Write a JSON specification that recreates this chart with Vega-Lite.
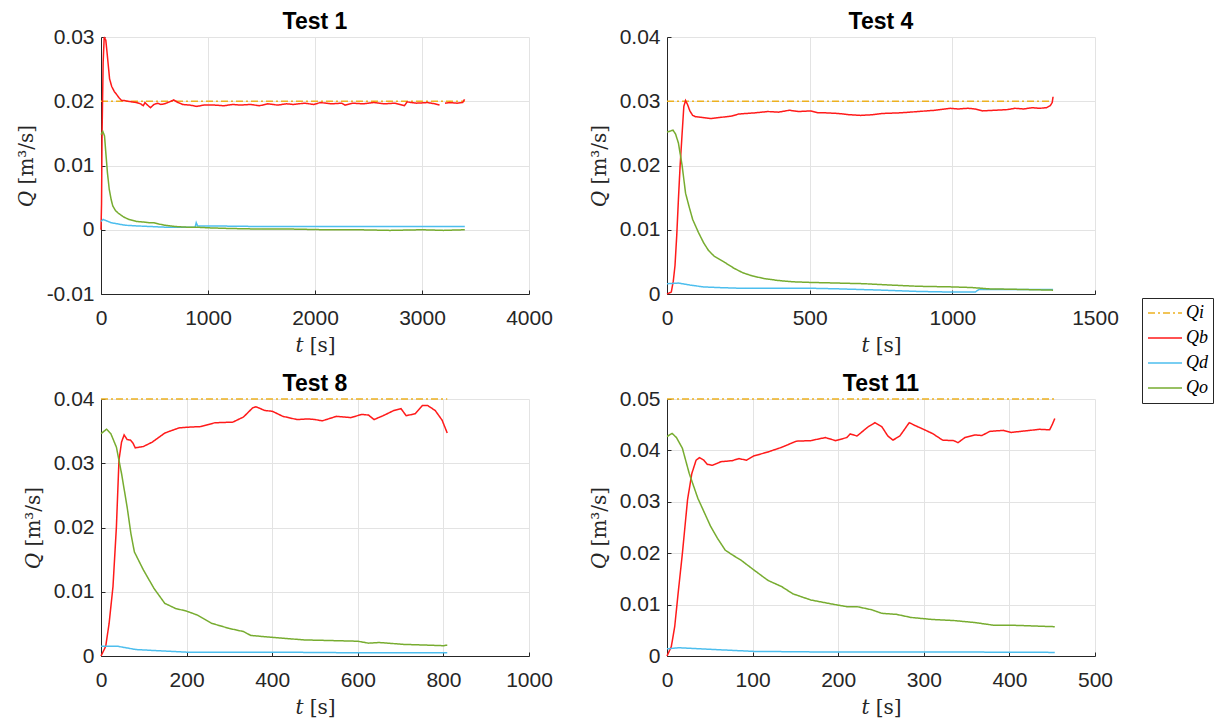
{
  "$schema": "https://vega.github.io/schema/vega-lite/v6.json",
  "padding": {"left": 16, "top": 11, "right": 5, "bottom": 5},
  "background": "white",
  "datasets": {
    "t1": [
      {"s":"Qi","t":0,"q":0.02},{"s":"Qi","t":3400,"q":0.02},
      {"s":"Qb","t":0,"q":0},{"s":"Qb","t":5,"q":0.004},{"s":"Qb","t":10,"q":0.015},{"s":"Qb","t":20,"q":0.026},{"s":"Qb","t":30,"q":0.03},{"s":"Qb","t":45,"q":0.0295},{"s":"Qb","t":60,"q":0.027},{"s":"Qb","t":80,"q":0.0235},{"s":"Qb","t":100,"q":0.0223},{"s":"Qb","t":125,"q":0.0215},{"s":"Qb","t":144,"q":0.0211},{"s":"Qb","t":170,"q":0.0205},{"s":"Qb","t":194,"q":0.0201},{"s":"Qb","t":220,"q":0.0201},{"s":"Qb","t":250,"q":0.02},{"s":"Qb","t":290,"q":0.0199},{"s":"Qb","t":330,"q":0.0198},{"s":"Qb","t":370,"q":0.0196},{"s":"Qb","t":395,"q":0.0193},{"s":"Qb","t":411,"q":0.0198},{"s":"Qb","t":435,"q":0.0194},{"s":"Qb","t":462,"q":0.019},{"s":"Qb","t":495,"q":0.0195},{"s":"Qb","t":528,"q":0.0197},{"s":"Qb","t":560,"q":0.0195},{"s":"Qb","t":595,"q":0.0196},{"s":"Qb","t":640,"q":0.0199},{"s":"Qb","t":679,"q":0.0202},{"s":"Qb","t":720,"q":0.0198},{"s":"Qb","t":763,"q":0.0195},{"s":"Qb","t":830,"q":0.0194},{"s":"Qb","t":896,"q":0.0192},{"s":"Qb","t":960,"q":0.0194},{"s":"Qb","t":1064,"q":0.0194},{"s":"Qb","t":1150,"q":0.0193},{"s":"Qb","t":1230,"q":0.0195},{"s":"Qb","t":1300,"q":0.0194},{"s":"Qb","t":1398,"q":0.0195},{"s":"Qb","t":1480,"q":0.0193},{"s":"Qb","t":1560,"q":0.0196},{"s":"Qb","t":1650,"q":0.0194},{"s":"Qb","t":1732,"q":0.0196},{"s":"Qb","t":1800,"q":0.0195},{"s":"Qb","t":1900,"q":0.0197},{"s":"Qb","t":1990,"q":0.0195},{"s":"Qb","t":2050,"q":0.0198},{"s":"Qb","t":2150,"q":0.0196},{"s":"Qb","t":2250,"q":0.0197},{"s":"Qb","t":2280,"q":0.0194},{"s":"Qb","t":2350,"q":0.0197},{"s":"Qb","t":2450,"q":0.0196},{"s":"Qb","t":2550,"q":0.0198},{"s":"Qb","t":2650,"q":0.0196},{"s":"Qb","t":2750,"q":0.0197},{"s":"Qb","t":2836,"q":0.0193},{"s":"Qb","t":2860,"q":0.0199},{"s":"Qb","t":2950,"q":0.0197},{"s":"Qb","t":3050,"q":0.0198},{"s":"Qb","t":3120,"q":0.0196},{"s":"Qb","t":3164,"q":0.0194},{"s":"Qb","t":3190,"q":null},{"s":"Qb","t":3215,"q":0.0197},{"s":"Qb","t":3260,"q":0.0198},{"s":"Qb","t":3330,"q":0.0197},{"s":"Qb","t":3380,"q":0.0198},{"s":"Qb","t":3398,"q":0.0203},
      {"s":"Qd","t":0,"q":0.0013},{"s":"Qd","t":20,"q":0.0016},{"s":"Qd","t":50,"q":0.0014},{"s":"Qd","t":94,"q":0.0011},{"s":"Qd","t":160,"q":0.0009},{"s":"Qd","t":227,"q":0.0007},{"s":"Qd","t":330,"q":0.0006},{"s":"Qd","t":462,"q":0.0005},{"s":"Qd","t":600,"q":0.0004},{"s":"Qd","t":729,"q":0.0004},{"s":"Qd","t":880,"q":0.0004},{"s":"Qd","t":890,"q":0.0011},{"s":"Qd","t":903,"q":0.0006},{"s":"Qd","t":1000,"q":0.0006},{"s":"Qd","t":1500,"q":0.0005},{"s":"Qd","t":2000,"q":0.0005},{"s":"Qd","t":2500,"q":0.0005},{"s":"Qd","t":3000,"q":0.0005},{"s":"Qd","t":3400,"q":0.0005},
      {"s":"Qo","t":0,"q":0.0148},{"s":"Qo","t":17,"q":0.0153},{"s":"Qo","t":33,"q":0.0146},{"s":"Qo","t":45,"q":0.012},{"s":"Qo","t":60,"q":0.0089},{"s":"Qo","t":77,"q":0.0063},{"s":"Qo","t":95,"q":0.0047},{"s":"Qo","t":110,"q":0.0037},{"s":"Qo","t":135,"q":0.003},{"s":"Qo","t":160,"q":0.0026},{"s":"Qo","t":210,"q":0.002},{"s":"Qo","t":261,"q":0.0016},{"s":"Qo","t":330,"q":0.0013},{"s":"Qo","t":395,"q":0.0012},{"s":"Qo","t":450,"q":0.0011},{"s":"Qo","t":495,"q":0.0011},{"s":"Qo","t":540,"q":0.0009},{"s":"Qo","t":595,"q":0.0007},{"s":"Qo","t":650,"q":0.0006},{"s":"Qo","t":696,"q":0.0005},{"s":"Qo","t":800,"q":0.0004},{"s":"Qo","t":896,"q":0.0004},{"s":"Qo","t":1000,"q":0.0003},{"s":"Qo","t":1200,"q":0.0002},{"s":"Qo","t":1500,"q":0.0001},{"s":"Qo","t":1800,"q":0.0001},{"s":"Qo","t":2100,"q":0},{"s":"Qo","t":2400,"q":0},{"s":"Qo","t":2700,"q":-0.0001},{"s":"Qo","t":3000,"q":0},{"s":"Qo","t":3200,"q":-0.0001},{"s":"Qo","t":3400,"q":0}
    ],
    "t4": [
      {"s":"Qi","t":0,"q":0.03},{"s":"Qi","t":1350,"q":0.03},
      {"s":"Qb","t":0,"q":0},{"s":"Qb","t":15,"q":0.0003},{"s":"Qb","t":22,"q":0.002},{"s":"Qb","t":28,"q":0.0044},{"s":"Qb","t":34,"q":0.009},{"s":"Qb","t":40,"q":0.0147},{"s":"Qb","t":46,"q":0.02},{"s":"Qb","t":53,"q":0.025},{"s":"Qb","t":59,"q":0.0292},{"s":"Qb","t":65,"q":0.0301},{"s":"Qb","t":72,"q":0.0295},{"s":"Qb","t":80,"q":0.0285},{"s":"Qb","t":90,"q":0.0278},{"s":"Qb","t":100,"q":0.0276},{"s":"Qb","t":120,"q":0.0275},{"s":"Qb","t":153,"q":0.0273},{"s":"Qb","t":190,"q":0.0275},{"s":"Qb","t":228,"q":0.0277},{"s":"Qb","t":250,"q":0.028},{"s":"Qb","t":278,"q":0.0281},{"s":"Qb","t":310,"q":0.0282},{"s":"Qb","t":353,"q":0.0284},{"s":"Qb","t":390,"q":0.0283},{"s":"Qb","t":429,"q":0.0286},{"s":"Qb","t":460,"q":0.0284},{"s":"Qb","t":504,"q":0.0285},{"s":"Qb","t":530,"q":0.0282},{"s":"Qb","t":554,"q":0.0282},{"s":"Qb","t":600,"q":0.0281},{"s":"Qb","t":640,"q":0.0279},{"s":"Qb","t":679,"q":0.0278},{"s":"Qb","t":720,"q":0.0279},{"s":"Qb","t":754,"q":0.0281},{"s":"Qb","t":820,"q":0.0282},{"s":"Qb","t":880,"q":0.0284},{"s":"Qb","t":940,"q":0.0286},{"s":"Qb","t":992,"q":0.0289},{"s":"Qb","t":1020,"q":0.0288},{"s":"Qb","t":1055,"q":0.0289},{"s":"Qb","t":1080,"q":0.0288},{"s":"Qb","t":1105,"q":0.0285},{"s":"Qb","t":1150,"q":0.0286},{"s":"Qb","t":1193,"q":0.0287},{"s":"Qb","t":1220,"q":0.0289},{"s":"Qb","t":1250,"q":0.0288},{"s":"Qb","t":1280,"q":0.029},{"s":"Qb","t":1306,"q":0.0289},{"s":"Qb","t":1330,"q":0.029},{"s":"Qb","t":1343,"q":0.0293},{"s":"Qb","t":1350,"q":0.0298},{"s":"Qb","t":1353,"q":0.0307},
      {"s":"Qd","t":0,"q":0.0016},{"s":"Qd","t":40,"q":0.0017},{"s":"Qd","t":80,"q":0.0014},{"s":"Qd","t":128,"q":0.0011},{"s":"Qd","t":180,"q":0.001},{"s":"Qd","t":253,"q":0.0009},{"s":"Qd","t":500,"q":0.0009},{"s":"Qd","t":600,"q":0.0008},{"s":"Qd","t":754,"q":0.0006},{"s":"Qd","t":880,"q":0.0004},{"s":"Qd","t":1000,"q":0.0003},{"s":"Qd","t":1080,"q":0.0003},{"s":"Qd","t":1093,"q":0.0007},{"s":"Qd","t":1200,"q":0.0007},{"s":"Qd","t":1353,"q":0.0007},
      {"s":"Qo","t":0,"q":0.0252},{"s":"Qo","t":21,"q":0.0255},{"s":"Qo","t":30,"q":0.0249},{"s":"Qo","t":40,"q":0.0235},{"s":"Qo","t":53,"q":0.02},{"s":"Qo","t":65,"q":0.0157},{"s":"Qo","t":78,"q":0.0135},{"s":"Qo","t":90,"q":0.0116},{"s":"Qo","t":110,"q":0.0096},{"s":"Qo","t":128,"q":0.008},{"s":"Qo","t":145,"q":0.0068},{"s":"Qo","t":165,"q":0.0059},{"s":"Qo","t":203,"q":0.0049},{"s":"Qo","t":235,"q":0.004},{"s":"Qo","t":266,"q":0.0033},{"s":"Qo","t":300,"q":0.0028},{"s":"Qo","t":341,"q":0.0024},{"s":"Qo","t":390,"q":0.0021},{"s":"Qo","t":441,"q":0.0019},{"s":"Qo","t":504,"q":0.0018},{"s":"Qo","t":600,"q":0.0017},{"s":"Qo","t":692,"q":0.0016},{"s":"Qo","t":780,"q":0.0014},{"s":"Qo","t":880,"q":0.0012},{"s":"Qo","t":1005,"q":0.0011},{"s":"Qo","t":1070,"q":0.001},{"s":"Qo","t":1130,"q":0.0008},{"s":"Qo","t":1250,"q":0.0007},{"s":"Qo","t":1353,"q":0.0006}
    ],
    "t8": [
      {"s":"Qi","t":0,"q":0.04},{"s":"Qi","t":809,"q":0.04},
      {"s":"Qb","t":0,"q":0},{"s":"Qb","t":11,"q":0.0015},{"s":"Qb","t":19,"q":0.0051},{"s":"Qb","t":28,"q":0.0108},{"s":"Qb","t":36,"q":0.0201},{"s":"Qb","t":42,"q":0.0305},{"s":"Qb","t":48,"q":0.0333},{"s":"Qb","t":54,"q":0.0344},{"s":"Qb","t":61,"q":0.0337},{"s":"Qb","t":69,"q":0.0336},{"s":"Qb","t":75,"q":0.0331},{"s":"Qb","t":80,"q":0.0324},{"s":"Qb","t":99,"q":0.0326},{"s":"Qb","t":120,"q":0.0333},{"s":"Qb","t":149,"q":0.0347},{"s":"Qb","t":182,"q":0.0355},{"s":"Qb","t":199,"q":0.0356},{"s":"Qb","t":232,"q":0.0357},{"s":"Qb","t":266,"q":0.0363},{"s":"Qb","t":308,"q":0.0364},{"s":"Qb","t":333,"q":0.0372},{"s":"Qb","t":354,"q":0.0386},{"s":"Qb","t":362,"q":0.0388},{"s":"Qb","t":383,"q":0.0382},{"s":"Qb","t":400,"q":0.0381},{"s":"Qb","t":425,"q":0.0373},{"s":"Qb","t":458,"q":0.0368},{"s":"Qb","t":483,"q":0.0369},{"s":"Qb","t":500,"q":0.0368},{"s":"Qb","t":517,"q":0.0366},{"s":"Qb","t":550,"q":0.0373},{"s":"Qb","t":584,"q":0.0371},{"s":"Qb","t":609,"q":0.0376},{"s":"Qb","t":625,"q":0.0375},{"s":"Qb","t":638,"q":0.0368},{"s":"Qb","t":659,"q":0.0374},{"s":"Qb","t":684,"q":0.0382},{"s":"Qb","t":701,"q":0.0385},{"s":"Qb","t":713,"q":0.0374},{"s":"Qb","t":734,"q":0.0377},{"s":"Qb","t":751,"q":0.039},{"s":"Qb","t":763,"q":0.039},{"s":"Qb","t":781,"q":0.0382},{"s":"Qb","t":797,"q":0.0367},{"s":"Qb","t":809,"q":0.0347},
      {"s":"Qd","t":0,"q":0.0015},{"s":"Qd","t":40,"q":0.0015},{"s":"Qd","t":82,"q":0.001},{"s":"Qd","t":140,"q":0.0008},{"s":"Qd","t":199,"q":0.0006},{"s":"Qd","t":400,"q":0.0006},{"s":"Qd","t":600,"q":0.0005},{"s":"Qd","t":809,"q":0.0005},
      {"s":"Qo","t":0,"q":0.0346},{"s":"Qo","t":13,"q":0.0353},{"s":"Qo","t":23,"q":0.0346},{"s":"Qo","t":36,"q":0.0325},{"s":"Qo","t":48,"q":0.0284},{"s":"Qo","t":61,"q":0.0232},{"s":"Qo","t":70,"q":0.019},{"s":"Qo","t":78,"q":0.0162},{"s":"Qo","t":99,"q":0.0134},{"s":"Qo","t":124,"q":0.0105},{"s":"Qo","t":149,"q":0.0082},{"s":"Qo","t":174,"q":0.0074},{"s":"Qo","t":199,"q":0.007},{"s":"Qo","t":224,"q":0.0064},{"s":"Qo","t":258,"q":0.0051},{"s":"Qo","t":299,"q":0.0043},{"s":"Qo","t":333,"q":0.0038},{"s":"Qo","t":350,"q":0.0032},{"s":"Qo","t":400,"q":0.0029},{"s":"Qo","t":475,"q":0.0025},{"s":"Qo","t":540,"q":0.0024},{"s":"Qo","t":600,"q":0.0023},{"s":"Qo","t":625,"q":0.002},{"s":"Qo","t":650,"q":0.0021},{"s":"Qo","t":709,"q":0.0018},{"s":"Qo","t":760,"q":0.0017},{"s":"Qo","t":801,"q":0.0016},{"s":"Qo","t":809,"q":0.0017}
    ],
    "t11": [
      {"s":"Qi","t":0,"q":0.05},{"s":"Qi","t":453,"q":0.05},
      {"s":"Qb","t":0,"q":0},{"s":"Qb","t":5,"q":0.0018},{"s":"Qb","t":9,"q":0.0057},{"s":"Qb","t":13,"q":0.0122},{"s":"Qb","t":18,"q":0.02},{"s":"Qb","t":24,"q":0.0304},{"s":"Qb","t":29,"q":0.0355},{"s":"Qb","t":34,"q":0.0381},{"s":"Qb","t":38,"q":0.0386},{"s":"Qb","t":43,"q":0.0381},{"s":"Qb","t":47,"q":0.0373},{"s":"Qb","t":53,"q":0.0371},{"s":"Qb","t":63,"q":0.0378},{"s":"Qb","t":76,"q":0.038},{"s":"Qb","t":84,"q":0.0384},{"s":"Qb","t":93,"q":0.0381},{"s":"Qb","t":101,"q":0.0389},{"s":"Qb","t":118,"q":0.0397},{"s":"Qb","t":134,"q":0.0406},{"s":"Qb","t":151,"q":0.0418},{"s":"Qb","t":168,"q":0.0419},{"s":"Qb","t":185,"q":0.0425},{"s":"Qb","t":197,"q":0.0419},{"s":"Qb","t":210,"q":0.0425},{"s":"Qb","t":214,"q":0.0432},{"s":"Qb","t":222,"q":0.0428},{"s":"Qb","t":235,"q":0.0446},{"s":"Qb","t":243,"q":0.0454},{"s":"Qb","t":251,"q":0.0446},{"s":"Qb","t":258,"q":0.0428},{"s":"Qb","t":264,"q":0.042},{"s":"Qb","t":272,"q":0.0428},{"s":"Qb","t":283,"q":0.0454},{"s":"Qb","t":289,"q":0.0449},{"s":"Qb","t":297,"q":0.0443},{"s":"Qb","t":310,"q":0.0433},{"s":"Qb","t":322,"q":0.042},{"s":"Qb","t":335,"q":0.0419},{"s":"Qb","t":340,"q":0.0415},{"s":"Qb","t":348,"q":0.0425},{"s":"Qb","t":360,"q":0.043},{"s":"Qb","t":368,"q":0.0429},{"s":"Qb","t":377,"q":0.0437},{"s":"Qb","t":393,"q":0.0439},{"s":"Qb","t":402,"q":0.0435},{"s":"Qb","t":419,"q":0.0438},{"s":"Qb","t":435,"q":0.0441},{"s":"Qb","t":447,"q":0.044},{"s":"Qb","t":450,"q":0.045},{"s":"Qb","t":453,"q":0.0462},
      {"s":"Qd","t":0,"q":0.0014},{"s":"Qd","t":14,"q":0.0016},{"s":"Qd","t":63,"q":0.0012},{"s":"Qd","t":101,"q":0.0009},{"s":"Qd","t":168,"q":0.0008},{"s":"Qd","t":300,"q":0.0008},{"s":"Qd","t":453,"q":0.0007},
      {"s":"Qo","t":0,"q":0.0427},{"s":"Qo","t":6,"q":0.0433},{"s":"Qo","t":11,"q":0.0425},{"s":"Qo","t":18,"q":0.0404},{"s":"Qo","t":26,"q":0.0355},{"s":"Qo","t":36,"q":0.0307},{"s":"Qo","t":51,"q":0.0252},{"s":"Qo","t":59,"q":0.0229},{"s":"Qo","t":68,"q":0.0206},{"s":"Qo","t":76,"q":0.0197},{"s":"Qo","t":86,"q":0.0187},{"s":"Qo","t":101,"q":0.0168},{"s":"Qo","t":118,"q":0.0147},{"s":"Qo","t":134,"q":0.0135},{"s":"Qo","t":147,"q":0.0121},{"s":"Qo","t":168,"q":0.0109},{"s":"Qo","t":193,"q":0.0101},{"s":"Qo","t":210,"q":0.0096},{"s":"Qo","t":222,"q":0.0096},{"s":"Qo","t":239,"q":0.009},{"s":"Qo","t":251,"q":0.0083},{"s":"Qo","t":268,"q":0.0081},{"s":"Qo","t":285,"q":0.0075},{"s":"Qo","t":310,"q":0.0071},{"s":"Qo","t":335,"q":0.0069},{"s":"Qo","t":360,"q":0.0065},{"s":"Qo","t":381,"q":0.006},{"s":"Qo","t":400,"q":0.006},{"s":"Qo","t":419,"q":0.0059},{"s":"Qo","t":435,"q":0.0058},{"s":"Qo","t":453,"q":0.0057}
    ]
  },
  "columns": 2,
  "spacing": {"row": 105, "column": 138},
  "bounds": "flush",
  "resolve": {"scale": {"color": "shared", "strokeDash": "shared"}},
  "concat": [
    {
      "title": "Test 1",
      "width": 428, "height": 257,
      "data": {"name": "t1"},
      "mark": {"type": "line", "strokeWidth": 1.5},
      "encoding": {
        "x": {"field": "t", "type": "quantitative", "scale": {"domain": [0, 4000], "nice": false}, "axis": {"values": [0, 1000, 2000, 3000, 4000], "title": "𝑡 [s]", "format": "d"}},
        "y": {"field": "q", "type": "quantitative", "scale": {"domain": [-0.01, 0.03], "nice": false, "zero": false}, "axis": {"values": [-0.01, 0, 0.01, 0.02, 0.03], "title": "𝑄 [m³/s]", "labelExpr": "datum.value === 0 ? '0' : (datum.value < 0 ? '-' + format(-datum.value, '.2f') : format(datum.value, '.2f'))"}},
        "color": {"field": "s", "type": "nominal", "scale": {"domain": ["Qi", "Qb", "Qd", "Qo"], "range": ["#EDB120", "#FF1A1A", "#4DBEEE", "#77AC30"]}},
        "strokeDash": {"field": "s", "type": "nominal", "scale": {"domain": ["Qi", "Qb", "Qd", "Qo"], "range": [[7, 3, 2, 3], [1, 0], [1, 0], [1, 0]]}}
      }
    },
    {
      "title": "Test 4",
      "width": 428, "height": 257,
      "data": {"name": "t4"},
      "mark": {"type": "line", "strokeWidth": 1.5},
      "encoding": {
        "x": {"field": "t", "type": "quantitative", "scale": {"domain": [0, 1500], "nice": false}, "axis": {"values": [0, 500, 1000, 1500], "title": "𝑡 [s]", "format": "d"}},
        "y": {"field": "q", "type": "quantitative", "scale": {"domain": [0, 0.04], "nice": false}, "axis": {"values": [0, 0.01, 0.02, 0.03, 0.04], "title": "𝑄 [m³/s]", "labelExpr": "datum.value === 0 ? '0' : format(datum.value, '.2f')"}},
        "color": {"field": "s", "type": "nominal"},
        "strokeDash": {"field": "s", "type": "nominal"}
      }
    },
    {
      "title": "Test 8",
      "width": 428, "height": 257,
      "data": {"name": "t8"},
      "mark": {"type": "line", "strokeWidth": 1.5},
      "encoding": {
        "x": {"field": "t", "type": "quantitative", "scale": {"domain": [0, 1000], "nice": false}, "axis": {"values": [0, 200, 400, 600, 800, 1000], "title": "𝑡 [s]", "format": "d"}},
        "y": {"field": "q", "type": "quantitative", "scale": {"domain": [0, 0.04], "nice": false}, "axis": {"values": [0, 0.01, 0.02, 0.03, 0.04], "title": "𝑄 [m³/s]", "labelExpr": "datum.value === 0 ? '0' : format(datum.value, '.2f')"}},
        "color": {"field": "s", "type": "nominal"},
        "strokeDash": {"field": "s", "type": "nominal"}
      }
    },
    {
      "title": "Test 11",
      "width": 428, "height": 257,
      "data": {"name": "t11"},
      "mark": {"type": "line", "strokeWidth": 1.5},
      "encoding": {
        "x": {"field": "t", "type": "quantitative", "scale": {"domain": [0, 500], "nice": false}, "axis": {"values": [0, 100, 200, 300, 400, 500], "title": "𝑡 [s]", "format": "d"}},
        "y": {"field": "q", "type": "quantitative", "scale": {"domain": [0, 0.05], "nice": false}, "axis": {"values": [0, 0.01, 0.02, 0.03, 0.04, 0.05], "title": "𝑄 [m³/s]", "labelExpr": "datum.value === 0 ? '0' : format(datum.value, '.2f')"}},
        "color": {"field": "s", "type": "nominal"},
        "strokeDash": {"field": "s", "type": "nominal"}
      }
    }
  ],
  "config": {
    "view": {"stroke": null},
    "title": {"font": "Liberation Sans", "fontSize": 23, "fontWeight": "bold", "color": "black", "frame": "group", "baseline": "alphabetic", "offset": -8},
    "axis": {
      "domainColor": "#262626", "domainWidth": 1,
      "gridColor": "#e3e3e3", "gridWidth": 1,
      "tickColor": "#262626", "tickSize": -4, "tickWidth": 1,
      "labelFont": "Liberation Sans", "labelFontSize": 21, "labelColor": "#262626",
      "labelFlush": false, "labelOverlap": false, "labelBound": false,
      "titleFont": "DejaVu Serif", "titleFontSize": 20, "titleFontWeight": "normal", "titleColor": "#262626"
    },
    "axisY": {"titlePadding": 10, "labelPadding": 11},
    "axisX": {"titlePadding": 7, "labelPadding": 17},
    "legend": {
      "orient": "none", "legendX": 1041, "legendY": 261,
      "title": null,
      "symbolType": "M-1,0H1", "symbolSize": 1156, "symbolStrokeWidth": 1.5, "clipHeight": 20,
      "labelFont": "Liberation Serif", "labelFontStyle": "italic", "labelFontSize": 18, "labelColor": "black", "labelOffset": 3,
      "strokeColor": "#262626", "fillColor": "white", "padding": 5, "rowPadding": 5
    }
  }
}
